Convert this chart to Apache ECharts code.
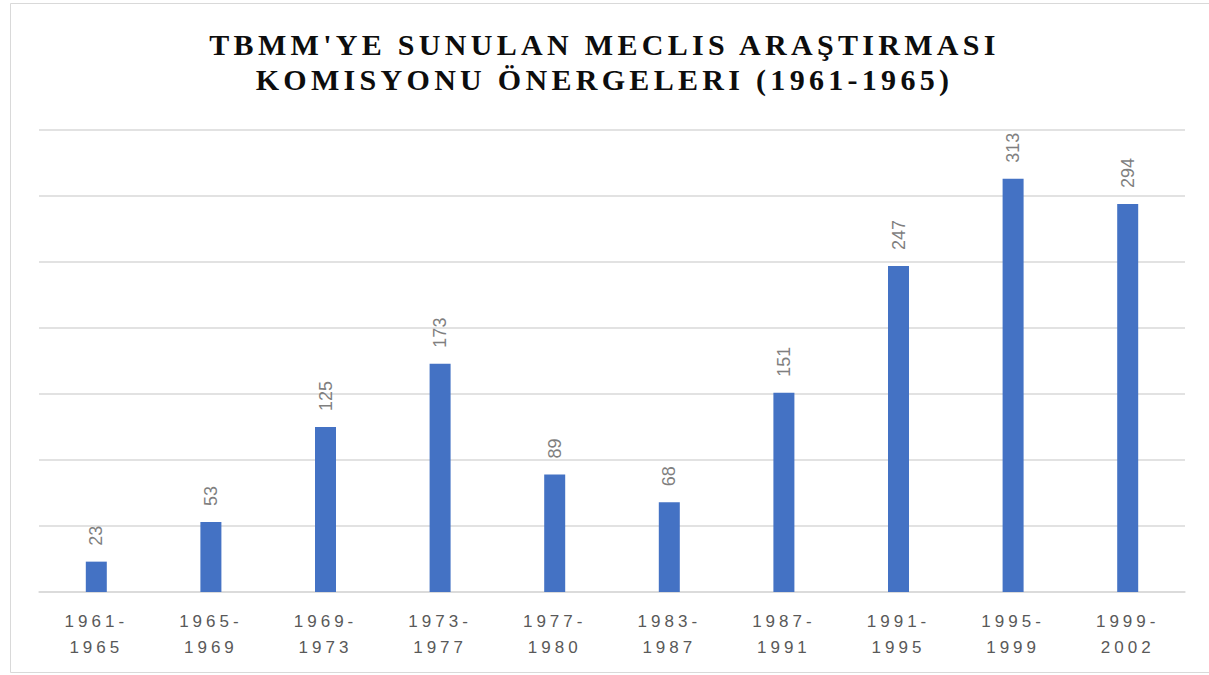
<!DOCTYPE html>
<html lang="tr">
  <head>
    <meta charset="UTF-8" />
    <title>TBMM Meclis Araştırması</title>
    <script src="https://cdn.jsdelivr.net/npm/echarts@6/dist/echarts.min.js"></script>
    <style>
      html, body { margin: 0; padding: 0; background: #fff; }
      #chart { width: 1209px; height: 675px; }
      /* letter spacing like the original Excel chart */
      #chart text[style*="30px"] { letter-spacing: 4.3px; }
      #chart text[style*="17px"] { letter-spacing: 4px; }
    </style>
  </head>
  <body>
    <div id="chart"></div>
  </body>
  <script>
    // dönemler
    let periods = [
      "1961-\n1965", "1965-\n1969", "1969-\n1973", "1973-\n1977", "1977-\n1980",
      "1983-\n1987", "1987-\n1991", "1991-\n1995", "1995-\n1999", "1999-\n2002"
    ];
    // önerge sayıları
    let counts = [23, 53, 125, 173, 89, 68, 151, 247, 313, 294];

    let chart = echarts.init(document.getElementById("chart"), null, { renderer: "svg" });
    chart.setOption({
      backgroundColor: "#fff",
      animation: false,
      title: {
        text: "TBMM'YE SUNULAN MECLIS ARAŞTIRMASI\nKOMISYONU ÖNERGELERI (1961-1965)",
        left: "center",
        top: 22,
        textStyle: {
          fontFamily: "Liberation Serif",
          fontWeight: "bold",
          fontSize: 30,
          lineHeight: 35,
          color: "#0d0d0d"
        }
      },
      graphic: [{
        type: "rect",
        shape: { x: 10.5, y: 3.5, width: 1210, height: 669 },
        style: { fill: "none", stroke: "#d9d9d9", lineWidth: 1 },
        silent: true
      }],
      grid: { left: 39, right: 24, top: 130, bottom: 83 },
      xAxis: {
        type: "category",
        data: periods,
        axisLine: { show: true, lineStyle: { color: "#d9d9d9", width: 1.5 } },
        axisTick: { show: false },
        axisLabel: {
          color: "#595959",
          fontFamily: "Liberation Sans",
          fontSize: 17,
          lineHeight: 26,
          margin: 16
        }
      },
      yAxis: {
        type: "value",
        min: 0,
        max: 350,
        interval: 50,
        axisLabel: { show: false },
        axisLine: { show: false },
        axisTick: { show: false },
        splitLine: { lineStyle: { color: "#d9d9d9", width: 1.5 } }
      },
      series: [{
        type: "bar",
        data: counts,
        barWidth: 21,
        itemStyle: { color: "#4472c4" },
        label: {
          show: true,
          position: "top",
          rotate: 90,
          align: "left",
          verticalAlign: "middle",
          distance: 16,
          color: "#7f7f7f",
          fontFamily: "Liberation Sans",
          fontSize: 18
        }
      }]
    });
  </script>
</html>
